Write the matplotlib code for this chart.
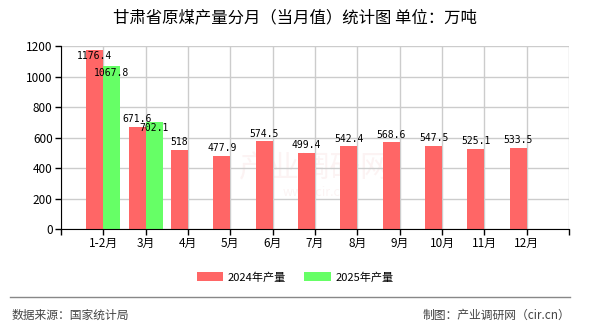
import matplotlib.pyplot as plt
from matplotlib.patches import Patch

plt.rcParams['font.family'] = ['Noto Sans CJK SC', 'DejaVu Sans']

# 甘肃省原煤产量（万吨）
months = ['1-2月', '3月', '4月', '5月', '6月', '7月', '8月', '9月', '10月', '11月', '12月']
output_2024 = [1176.4, 671.6, 518, 477.9, 574.5, 499.4, 542.4, 568.6, 547.5, 525.1, 533.5]
output_2025 = [1067.8, 702.1]

red = '#ff6666'
green = '#66ff66'

fig = plt.figure(figsize=(5.9, 3.3), dpi=100)
ax = fig.add_axes([0.1034, 0.306, 0.861, 0.5546])

pos = list(range(1, len(months) + 1))
w = 0.4
ax.bar([p - w / 2 for p in pos], output_2024, width=w, color=red, zorder=2)
ax.bar([p + w / 2 for p in pos[:len(output_2025)]], output_2025, width=w, color=green, zorder=2)

ax.set_xlim(0, 12)
ax.set_ylim(0, 1200)
ax.set_yticks(range(0, 1201, 200))
ax.set_xticks(range(0, 13))
ax.set_xticklabels([''] + months + [''])
ax.tick_params(axis='both', direction='out', length=4, width=1, colors='black', labelsize=8.5, pad=2)
ax.grid(True, color='#cccccc', linewidth=1, zorder=0)
for s in ('top', 'right'):
    ax.spines[s].set_visible(False)
for s in ('left', 'bottom'):
    ax.spines[s].set_color('black')

mono = 'DejaVu Sans Mono'
# 标签: 2024 在柱顶上方，放不下时放进柱内；2025 放在柱内
for p, v in zip(pos, output_2024):
    if v > 1100:
        ax.annotate(f'{v:g}', (p - w / 2, v), xytext=(0, -1), textcoords='offset points',
                    ha='center', va='top', fontsize=7, family=mono, zorder=3)
    else:
        ax.annotate(f'{v:g}', (p - w / 2, v), xytext=(0, 2), textcoords='offset points',
                    ha='center', va='bottom', fontsize=7, family=mono, zorder=3)
for p, v in zip(pos, output_2025):
    ax.annotate(f'{v:g}', (p + w / 2, v), xytext=(0, -1), textcoords='offset points',
                ha='center', va='top', fontsize=7, family=mono, zorder=3)

# 水印
ax.text(0.5, 0.33, '产业调研网', transform=ax.transAxes, ha='center', va='center',
        fontsize=22, color='#d04040', alpha=0.06, zorder=1)
ax.text(0.5, 0.2, 'www.cir.cn', transform=ax.transAxes, ha='center', va='center',
        fontsize=9, color='#d04040', alpha=0.06, zorder=1)

fig.text(0.5, 0.945, '甘肃省原煤产量分月（当月值）统计图 单位：万吨', ha='center', va='center',
         fontsize=11.8, color='black')

handles = [Patch(facecolor=red, label='2024年产量'), Patch(facecolor=green, label='2025年产量')]
fig.legend(handles=handles, loc='center', bbox_to_anchor=(0.5, 0.16), ncol=2, frameon=False,
           fontsize=8, handlelength=2.4, handleheight=0.8, handletextpad=0.4, columnspacing=1.6)

fig.add_artist(plt.Line2D([0.017, 0.966], [0.1, 0.1], transform=fig.transFigure,
                          color='#888888', linewidth=1))
fig.text(0.02, 0.045, '数据来源：国家统计局', ha='left', va='center', fontsize=8.5, color='#444444')
fig.text(0.966, 0.045, '制图：产业调研网（cir.cn）', ha='right', va='center', fontsize=8.5, color='#444444')

fig.savefig('out.png', dpi=100)
